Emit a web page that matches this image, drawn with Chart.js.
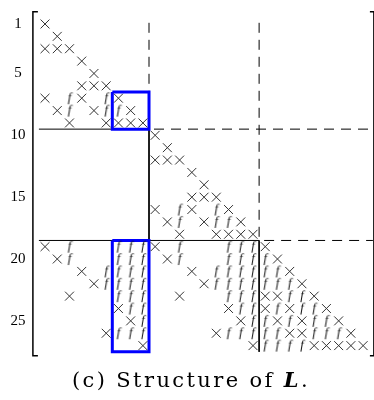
<!DOCTYPE html>
<html>
<head>
<meta charset="utf-8" />
<title>Structure of L</title>
<script src="https://cdn.jsdelivr.net/npm/chart.js"></script>
<style>
  body { margin: 0; background: #fff; }
  #wrap { position: relative; width: 374px; height: 400px; }
  #caption { position: absolute; left: 4px; top: 367px; width: 374px; text-align: center;
             font-family: "DejaVu Serif", serif; font-size: 21px; letter-spacing: 2.4px; color: #000; }
</style>
</head>
<body>
<div id="wrap">
  <canvas id="myChart" width="374" height="400"></canvas>
  <div id="caption">(c) Structure of <b><i>L</i></b>.</div>
</div>

<script type="text/javascript">
// matrix size, row tick labels, block boundaries
const n = 27;
const tickLabels = [1, 5, 10, 15, 20, 25];
const blockEnds = [9, 18];

// columns holding an original nonzero (x), one list per row
const crossCols = [
  [1], [2], [1, 2, 3], [4], [5], [4, 5, 6], [1, 4, 7], [2, 5, 8], [3, 6, 7, 8, 9],
  [10], [11], [10, 11, 12], [13], [14], [13, 14, 15], [10, 13, 16], [11, 14, 17], [12, 15, 16, 17, 18],
  [1, 10, 19], [2, 11, 20], [4, 13, 21], [5, 14, 22], [3, 12, 19, 20, 23],
  [7, 16, 19, 21, 24], [8, 17, 20, 22, 25], [6, 15, 21, 22, 26], [9, 18, 23, 24, 25, 26, 27]
];

// columns holding a fill-in (f), one list per row
const fillCols = [
  [], [], [], [], [], [], [3, 6], [3, 6, 7], [],
  [], [], [], [], [], [], [12, 15], [12, 15, 16], [],
  [3, 7, 8, 9, 12, 16, 17, 18],
  [3, 7, 8, 9, 12, 16, 17, 18, 19],
  [6, 7, 8, 9, 15, 16, 17, 18, 19, 20],
  [6, 7, 8, 9, 15, 16, 17, 18, 19, 20, 21],
  [7, 8, 9, 16, 17, 18, 21, 22],
  [8, 9, 17, 18, 20, 22, 23],
  [9, 18, 19, 21, 23, 24],
  [7, 8, 9, 16, 17, 18, 19, 20, 23, 24, 25],
  [19, 20, 21, 22]
];

// highlighted (blue) blocks: columns 7-9, rows 7-9 and rows 19-27
const boxCols = [7, 9];
const boxRows = [[7, 9], [19, 27]];

const xMax = n + 0.8;

const toPoints = lists => {
  var pts = [];
  lists.forEach((cols, i) => cols.forEach(c => pts.push({ x: c, y: i + 1 })));
  return pts;
};

// the "f" glyph used as a point style
const fImg = document.createElement('canvas');
fImg.width = 12; fImg.height = 16;
const fctx = fImg.getContext('2d');
fctx.font = 'italic 13px "Liberation Serif"';
fctx.textAlign = 'center';
fctx.textBaseline = 'middle';
fctx.fillStyle = '#111';
fctx.fillText('f', 6, 8);

const seg = (x1, y1, x2, y2, dashed) => ({
  data: [{ x: x1, y: y1 }, { x: x2, y: y2 }],
  showLine: true, pointRadius: 0, borderColor: '#000', borderWidth: 1,
  borderDash: dashed ? [10, 7] : [], borderDashOffset: dashed ? 12 : 0
});

// block separator lines
var lineSets = [];
blockEnds.forEach((b, k) => {
  const e = b + 0.5;
  const next = (k + 1 < blockEnds.length ? blockEnds[k + 1] : n) + 0.5;
  lineSets.push(seg(0.5, e, e, e, false));
  lineSets.push(seg(e, e, xMax, e, true));
  lineSets.push(seg(e, 0.5, e, e, true));
  lineSets.push(seg(e, e, e, next, false));
});

const boxSets = boxRows.map(r => {
  const x1 = boxCols[0] - 0.5, x2 = boxCols[1] + 0.5, y1 = r[0] - 0.5, y2 = r[1] + 0.5;
  return {
    data: [{ x: x1, y: y1 }, { x: x2, y: y1 }, { x: x2, y: y2 }, { x: x1, y: y2 }, { x: x1, y: y1 }],
    showLine: true, pointRadius: 0, borderColor: 'rgb(0,0,255)', borderWidth: 3
  };
});

// brackets around the matrix
const bracketPlugin = {
  id: 'brackets',
  afterDraw(chart) {
    const ctx = chart.ctx;
    const a = chart.chartArea;
    const top = a.top - 6, bottom = a.bottom + 4;
    ctx.save();
    ctx.strokeStyle = '#000';
    ctx.lineWidth = 1.5;
    ctx.beginPath();
    ctx.moveTo(a.left - 1, top); ctx.lineTo(a.left - 6, top);
    ctx.lineTo(a.left - 6, bottom); ctx.lineTo(a.left - 1, bottom);
    ctx.moveTo(a.right - 3, top); ctx.lineTo(a.right + 1, top);
    ctx.lineTo(a.right + 1, bottom); ctx.lineTo(a.right - 3, bottom);
    ctx.stroke();
    ctx.restore();
  }
};

const ctx = document.getElementById('myChart');
new Chart(ctx, {
  type: 'scatter',
  data: {
    datasets: [
      { data: toPoints(crossCols), pointStyle: 'crossRot', pointRadius: 6.3,
        borderColor: '#333', borderWidth: 1, backgroundColor: 'transparent' },
      { data: toPoints(fillCols), pointStyle: fImg, pointRadius: 6 },
      ...boxSets,
      ...lineSets
    ]
  },
  options: {
    responsive: false,
    animation: false,
    clip: false,
    layout: { autoPadding: false, padding: { top: 17.8, right: 1.1, bottom: 48.2, left: 0 } },
    plugins: { legend: { display: false }, tooltip: { enabled: false } },
    scales: {
      x: { type: 'linear', min: 0.5, max: xMax, display: false },
      y: {
        type: 'linear', reverse: true, min: 0.5, max: n + 0.5,
        grid: { display: false, drawTicks: true, tickLength: 13.4 },
        border: { display: false },
        ticks: { color: '#000', padding: 0, crossAlign: 'center',
                 font: { family: 'Liberation Serif', size: 15, lineHeight: 1 } },
        afterBuildTicks: s => { s.ticks = tickLabels.map(v => ({ value: v })); },
        afterFit: s => { s.width = 38.9; }
      }
    }
  },
  plugins: [bracketPlugin]
});
</script>
</body>
</html>
